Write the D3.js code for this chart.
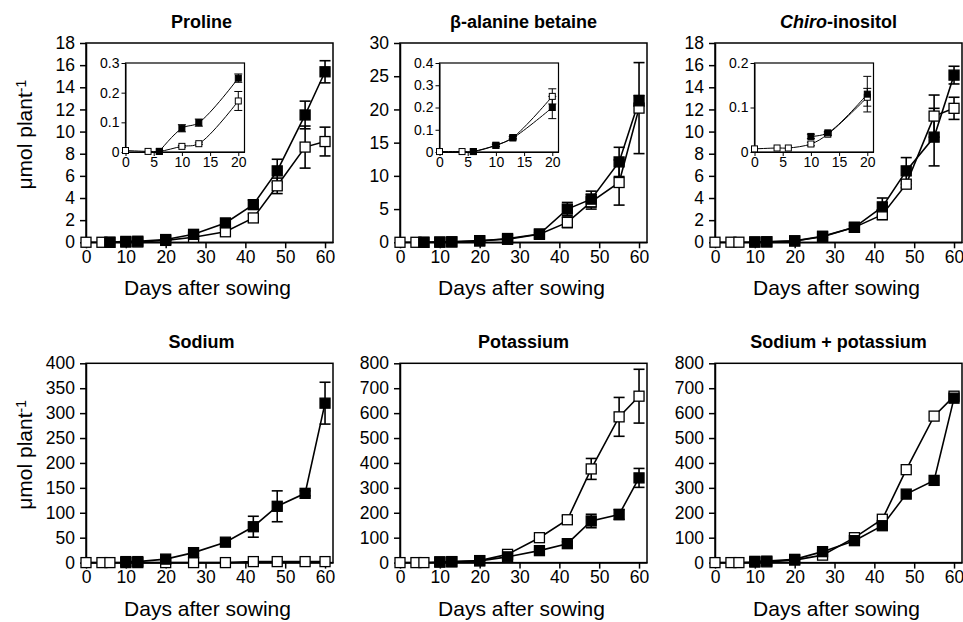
<!DOCTYPE html>
<html>
<head>
<meta charset="utf-8">
<script src="https://cdn.jsdelivr.net/npm/d3@7"></script>
<style>
  body { margin: 0; background: #fff; }
  text { font-family: "Liberation Sans", Arial, sans-serif; fill: #000; }
</style>
</head>
<body>
<svg id="chart" width="963" height="622"></svg>
<script>
// dias de amostragem
const days = [0, 4, 6, 10, 13, 20, 27, 35, 42, 48, 55, 60];
const xTicks = [0, 10, 20, 30, 40, 50, 60];
const insetTicks = [0, 5, 10, 15, 20];

const titles = ["Proline", "β-alanine betaine", "Chiro-inositol", "Sodium", "Potassium", "Sodium + potassium"];
const yMax = [18, 30, 18, 400, 800, 800];
const yStep = [2, 5, 2, 50, 100, 100];
const insetMax = [0.3, 0.4, 0.2, null, null, null];

// quadrado aberto / quadrado cheio (media e erro padrao)
const prolineOpen = [0.005, 0.002, 0.002, 0.019, 0.028, 0.172, 0.45, 0.95, 2.2, 5.1, 8.6, 9.1];
const prolineOpenSe = [0, 0, 0, 0.003, 0.003, 0.032, 0.1, 0.2, 0.35, 0.7, 1.9, 1.3];
const prolineFilled = [null, null, 0.002, 0.08, 0.099, 0.249, 0.72, 1.75, 3.4, 6.45, 11.5, 15.4];
const prolineFilledSe = [null, null, 0, 0.012, 0.012, 0.014, 0.1, 0.1, 0.4, 1.05, 1.25, 1.0];

const betaOpen = [0.002, 0.002, 0.002, 0.03, 0.065, 0.25, 0.45, 1.2, 3.0, 6.1, 9.0, 20.2];
const betaOpenSe = [0, 0, 0, 0.005, 0.005, 0.034, 0.1, 0.2, 0.8, 1.1, 3.4, 6.85];
const betaFilled = [null, null, 0.002, 0.03, 0.063, 0.2, 0.57, 1.25, 5.0, 6.5, 12.1, 21.3];
const betaFilledSe = [null, null, 0, 0.005, 0.005, 0.05, 0.1, 0.2, 1.0, 1.2, 2.2, 0.8];

const chiroOpen = [0.007, 0.009, 0.009, 0.018, 0.04, 0.123, 0.5, 1.35, 2.5, 5.25, 11.4, 12.1];
const chiroOpenSe = [0, 0, 0, 0.004, 0.003, 0.02, 0.1, 0.15, 0.45, 0.3, 1.9, 1.0];
const chiroFilled = [null, null, null, 0.035, 0.043, 0.13, 0.55, 1.35, 3.2, 6.45, 9.5, 15.1];
const chiroFilledSe = [null, null, null, 0.005, 0.003, 0.04, 0.1, 0.15, 0.8, 1.2, 2.6, 0.8];

const sodiumOpen = [0, 0, 0, 0, 0, 0, 0, 0, 2, 2, 2, 2];
const sodiumOpenSe = [0, 0, 0, 0, 0, 0, 0, 0, 0, 0, 0, 0];
const sodiumFilled = [null, null, null, 2, 2, 7, 20, 41, 72, 113, 139, 320];
const sodiumFilledSe = [null, null, null, 0, 0, 0, 2, 4, 21, 31, 5, 42];

const potassiumOpen = [0, 0, 0, 2, 3, 8, 33, 100, 172, 376, 585, 668];
const potassiumOpenSe = [0, 0, 0, 0, 0, 0, 4, 6, 15, 42, 78, 108];
const potassiumFilled = [null, null, null, 3, 4, 7, 23, 48, 76, 167, 193, 340];
const potassiumFilledSe = [null, null, null, 0, 0, 0, 3, 5, 8, 27, 20, 38];

const naKOpen = [0, 0, 0, 2, 3, 10, 30, 100, 174, 373, 588, 668];
const naKFilled = [null, null, null, 5, 6, 13, 44, 88, 148, 275, 330, 660];

const openSeries = [prolineOpen, betaOpen, chiroOpen, sodiumOpen, potassiumOpen, naKOpen];
const openErrors = [prolineOpenSe, betaOpenSe, chiroOpenSe, sodiumOpenSe, potassiumOpenSe, null];
const filledSeries = [prolineFilled, betaFilled, chiroFilled, sodiumFilled, potassiumFilled, naKFilled];
const filledErrors = [prolineFilledSe, betaFilledSe, chiroFilledSe, sodiumFilledSe, potassiumFilledSe, null];

// layout
const colLeft = [86, 400, 715];
const rowTop = [43, 363.3];
const W = 247, H = 199.3;

const svg = d3.select("#chart");

function pontos(vals, errs, maxDay) {
    return days.map((d, i) => ({ d: d, v: vals[i], e: errs ? errs[i] : 0 }))
        .filter(p => p.v != null && p.d <= maxDay);
}

function plotSeries(g, x, y, k, opt) {
    const series = [
        { pts: pontos(openSeries[k], openErrors[k], opt.maxDay), fill: "#fff" },
        { pts: pontos(filledSeries[k], filledErrors[k], opt.maxDay), fill: "#000" }
    ];
    const line = d3.line().x(p => x(p.d)).y(p => y(p.v));
    if (opt.curve) line.curve(opt.curve);

    series.forEach(s => {
        g.append("path").datum(s.pts)
            .attr("d", line)
            .attr("fill", "none").attr("stroke", "#000").attr("stroke-width", opt.lw);
    });

    series.forEach(s => {
        s.pts.filter(p => p.e > 0).forEach(p => {
            const y1 = y(p.v + p.e), y2 = y(Math.max(0, p.v - p.e)), cx = x(p.d);
            const eb = g.append("g").attr("stroke", "#000").attr("stroke-width", opt.lw);
            eb.append("line").attr("x1", cx).attr("x2", cx).attr("y1", y1).attr("y2", y2);
            eb.append("line").attr("x1", cx - opt.cap / 2).attr("x2", cx + opt.cap / 2).attr("y1", y1).attr("y2", y1);
            eb.append("line").attr("x1", cx - opt.cap / 2).attr("x2", cx + opt.cap / 2).attr("y1", y2).attr("y2", y2);
        });
    });

    series.forEach(s => {
        g.selectAll(null).data(s.pts).enter().append("rect")
            .attr("x", p => x(p.d) - opt.ms / 2)
            .attr("y", p => y(p.v) - opt.ms / 2)
            .attr("width", opt.ms).attr("height", opt.ms)
            .attr("fill", s.fill).attr("stroke", "#000").attr("stroke-width", opt.mlw);
    });
}

function estiloEixo(ax, fs, sw) {
    ax.selectAll("path").attr("stroke-width", sw);
    ax.selectAll("line").attr("stroke-width", sw);
    ax.selectAll("text").style("font-size", fs + "px").attr("fill", "#000");
}

function drawPanel(k) {
    const col = k % 3, row = Math.floor(k / 3);
    const left = colLeft[col], top = rowTop[row];
    const g = svg.append("g").attr("transform", `translate(${left},${top})`);

    const x = d3.scaleLinear().domain([0, 62]).range([0, W]);
    const y = d3.scaleLinear().domain([0, yMax[k]]).range([H, 0]);

    const xa = g.append("g").attr("transform", `translate(0,${H})`)
        .call(d3.axisBottom(x).tickValues(xTicks).tickSize(6).tickSizeOuter(0).tickPadding(2));
    estiloEixo(xa, 17.5, 1.5);

    const yt = d3.range(0, yMax[k] + yStep[k] / 2, yStep[k]);
    const ya = g.append("g")
        .call(d3.axisLeft(y).tickValues(yt).tickSize(6).tickSizeOuter(0).tickPadding(5));
    estiloEixo(ya, 17.5, 1.5);

    g.append("rect").attr("width", W).attr("height", H)
        .attr("fill", "none").attr("stroke", "#000").attr("stroke-width", 1.5);

    // titulo
    const t = g.append("text").attr("x", W / 2 - (col === 0 ? 8 : 0)).attr("y", -15)
        .attr("text-anchor", "middle").style("font-size", "18px").style("font-weight", "bold");
    if (titles[k].startsWith("Chiro")) {
        t.append("tspan").style("font-style", "italic").text("Chiro");
        t.append("tspan").text(titles[k].slice(5));
    } else {
        t.text(titles[k]);
    }

    g.append("text").attr("x", W / 2 - 2).attr("y", H + 53)
        .attr("text-anchor", "middle").style("font-size", "21px").text("Days after sowing");

    if (col === 0) {
        const yl = g.append("text")
            .attr("transform", `translate(${-54},${H / 2 - 8}) rotate(-90)`)
            .attr("text-anchor", "middle").style("font-size", "21px");
        yl.append("tspan").text("μmol plant");
        yl.append("tspan").attr("dy", "-0.45em").style("font-size", "14px").text("-1");
    }

    plotSeries(g, x, y, k, { maxDay: 100, lw: 1.6, cap: 11, ms: 10, mlw: 1.3 });

    if (insetMax[k] != null) drawInset(g, k);
}

function drawInset(parent, k) {
    const iw = 119, ih = 89;
    const g = parent.append("g").attr("transform", `translate(39.5,${20})`);
    const x = d3.scaleLinear().domain([0, 21.1]).range([0, iw]);
    const y = d3.scaleLinear().domain([0, insetMax[k]]).range([ih, 0]);
    const fmt = v => v === 0 ? "0" : d3.format(".1f")(v);

    const xa = g.append("g").attr("transform", `translate(0,${ih})`)
        .call(d3.axisBottom(x).tickValues(insetTicks).tickSize(4).tickSizeOuter(0).tickPadding(1));
    estiloEixo(xa, 14, 1);
    const ya = g.append("g")
        .call(d3.axisLeft(y).tickValues(d3.range(0, insetMax[k] + 0.05, 0.1)).tickFormat(fmt)
            .tickSize(4).tickSizeOuter(0).tickPadding(2));
    estiloEixo(ya, 14, 1);

    g.append("rect").attr("width", iw).attr("height", ih)
        .attr("fill", "none").attr("stroke", "#000").attr("stroke-width", 1.2);

    plotSeries(g, x, y, k, { maxDay: 20, lw: 1, cap: 8, ms: 6, mlw: 1, curve: d3.curveCatmullRom.alpha(0.5) });
}

titles.forEach((_, k) => drawPanel(k));
</script>
</body>
</html>
